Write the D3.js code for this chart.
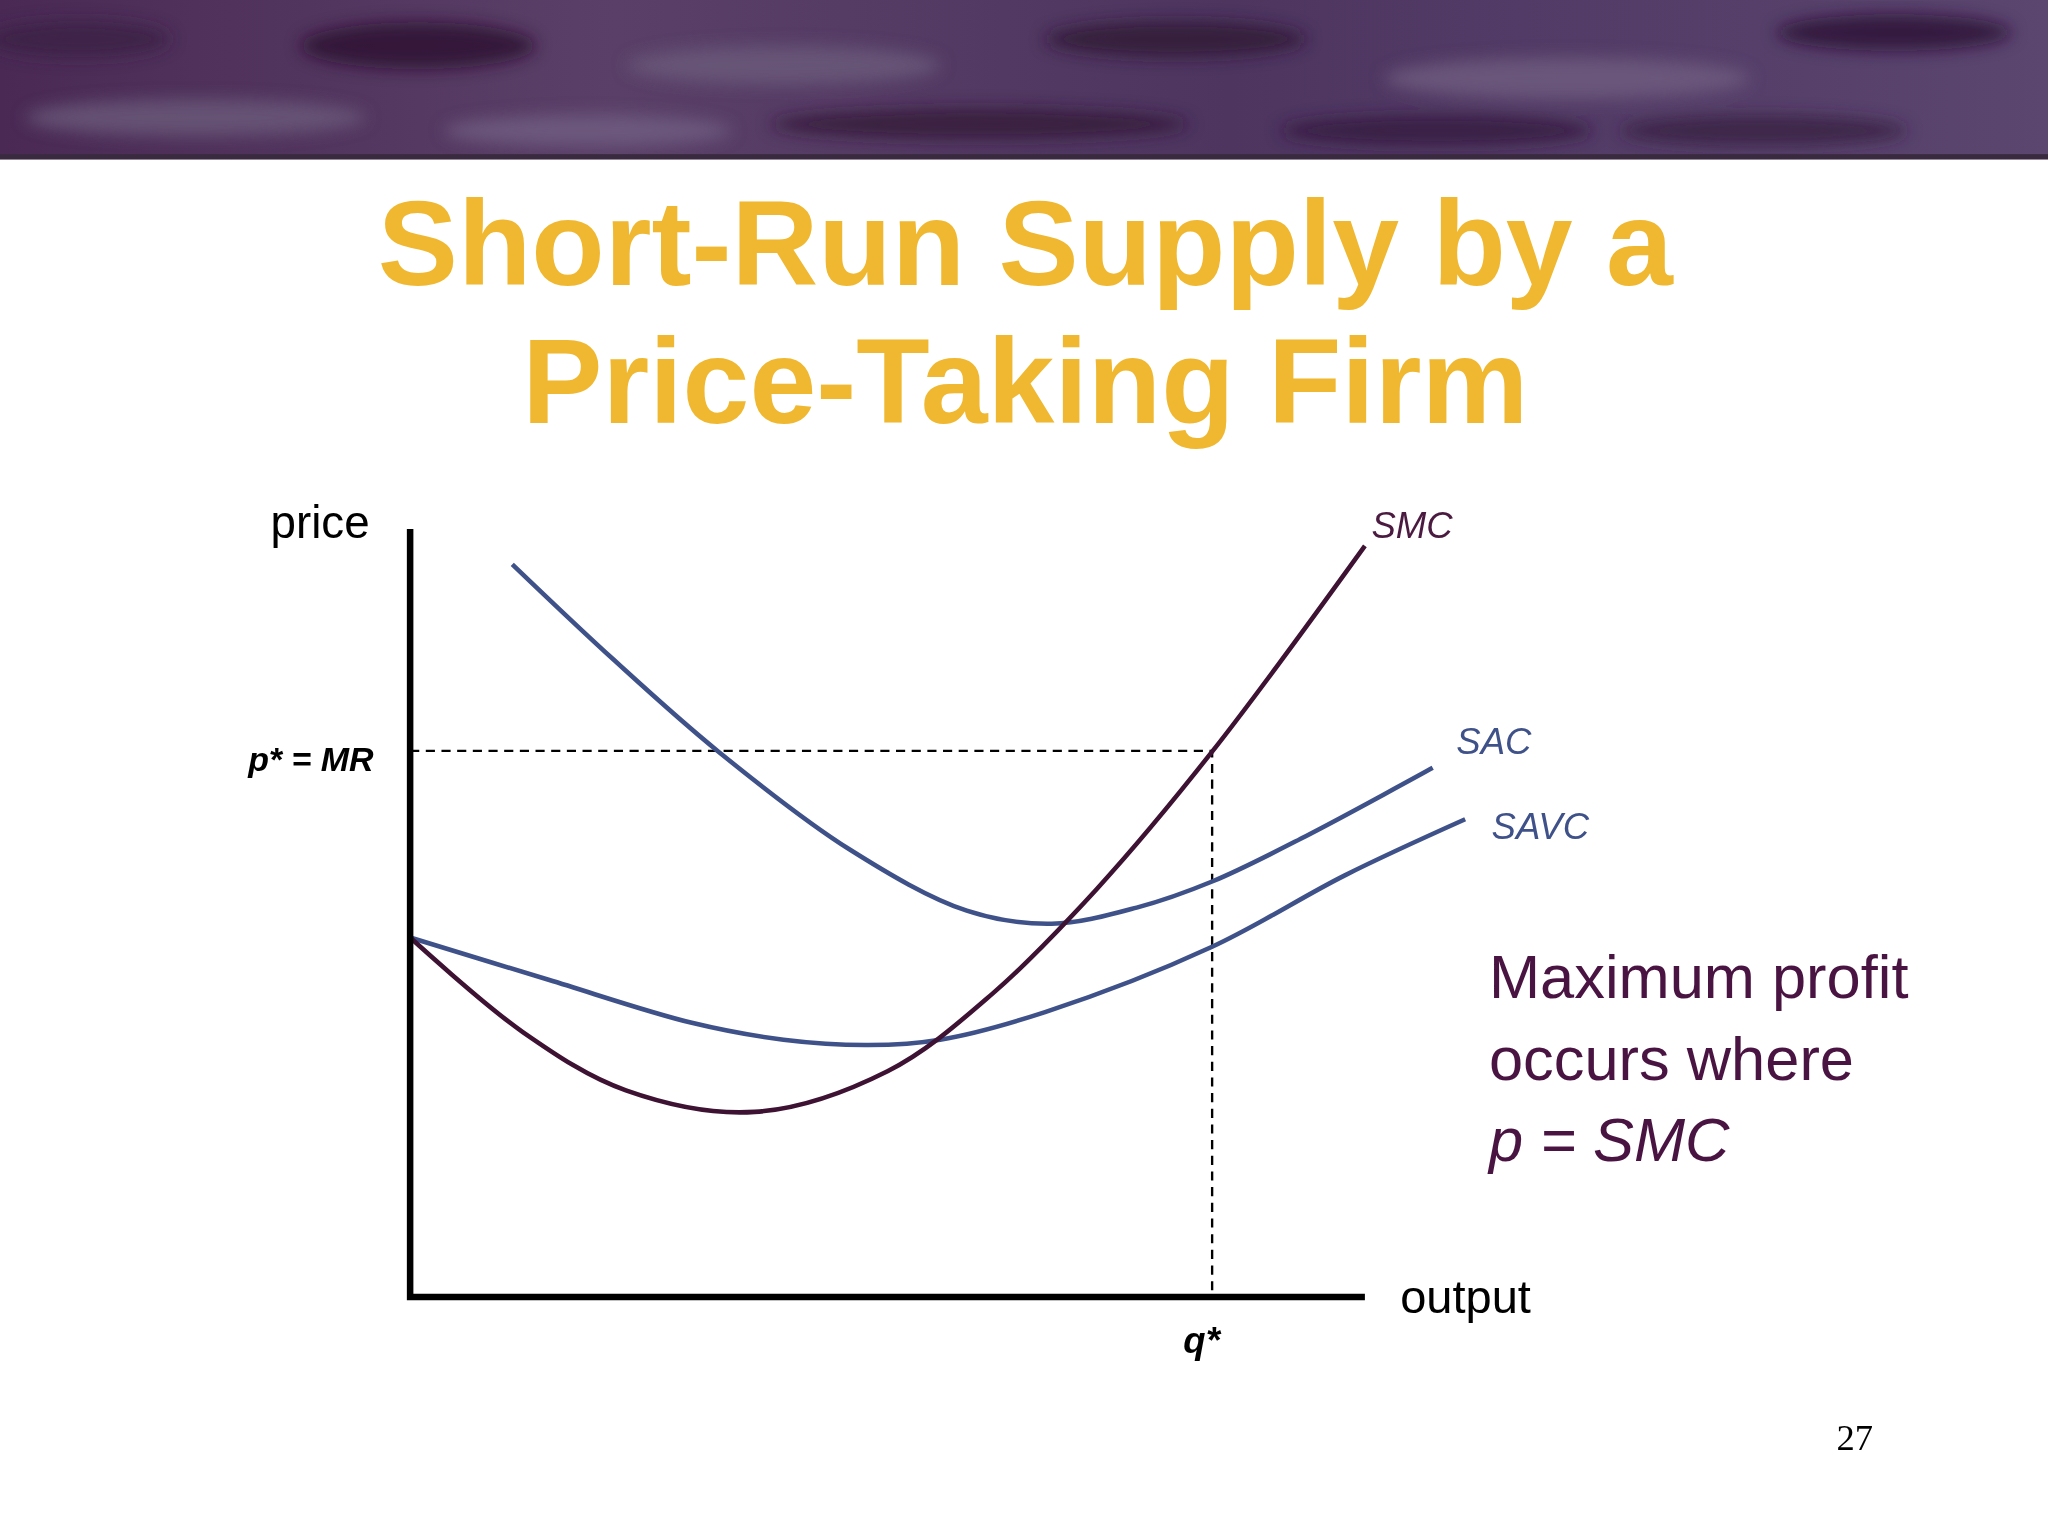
<!DOCTYPE html>
<html><head><meta charset="utf-8">
<script src="https://cdn.jsdelivr.net/npm/d3@7"></script>
<style>html,body{margin:0;padding:0;background:#fff;overflow:hidden}</style>
</head><body>
<script>
const smcData = [[0,46.8],[11.8,34.5],[22.6,26.9],[36.1,24.1],[50.0,29.4],[61.0,39.5],[71.9,53.1],[84.0,71.0],[100,97.8]];
const sacData = [[10.7,95.4],[21.3,83.0],[32.2,71.1],[46.0,58.3],[58.3,50.3],[67.2,48.6],[76.1,50.7],[84.0,54.1],[93.8,60.0],[107.1,68.9]];
const savcData = [[0,46.8],[14.5,41.3],[29.5,35.7],[39.1,33.5],[48.0,32.8],[55.5,33.5],[66.5,37.1],[84.0,45.6],[97.9,54.9],[110.5,62.2]];
const pStar = 71.1, qStar = 84.0;

const W=1568,H=1176;
const svg=d3.select("body").append("svg").attr("width",2048).attr("height",1536).attr("viewBox",`0 0 ${W} ${H}`);
// banner
const defs=svg.append("defs");
const g=defs.append("linearGradient").attr("id","bg").attr("x1",0).attr("x2",1).attr("y1",0).attr("y2",0);
[["0%","#4a2a55"],["30%","#5a4068"],["60%","#4d3560"],["100%","#5b4670"]].forEach(s=>g.append("stop").attr("offset",s[0]).attr("stop-color",s[1]));
defs.append("filter").attr("id","blur").append("feGaussianBlur").attr("stdDeviation",6);
svg.append("rect").attr("width",W).attr("height",122).attr("fill","url(#bg)");
const blobs=[[320,35,90,18,"#2a1030"],[600,50,120,15,"#6a5a7a"],[900,30,100,14,"#2e1535"],[1200,60,140,16,"#705c80"],[1450,25,90,14,"#2c1232"],[150,90,130,14,"#6b5b7a"],[750,95,160,12,"#33183a"],[1100,100,120,12,"#351a3d"],[450,100,110,12,"#725f82"],[1350,100,110,12,"#3a2042"],[60,30,70,14,"#3b2244"]];
const bl=svg.append("g").attr("filter","url(#blur)");
blobs.forEach(b=>bl.append("ellipse").attr("cx",b[0]).attr("cy",b[1]).attr("rx",b[2]).attr("ry",b[3]).attr("fill",b[4]).attr("opacity",0.8));
svg.append("rect").attr("y",118).attr("width",W).attr("height",4).attr("fill","#3a2a40");

const tf="'Liberation Sans', Arial, sans-serif";
svg.append("text").attr("x",785).attr("y",218).attr("text-anchor","middle").attr("font-family",tf).attr("font-weight","bold").attr("font-size",92).attr("fill","#F0B830").text("Short-Run Supply by a");
svg.append("text").attr("x",785).attr("y",324).attr("text-anchor","middle").attr("font-family",tf).attr("font-weight","bold").attr("font-size",92).attr("fill","#F0B830").text("Price-Taking Firm");

const x=d3.scaleLinear().domain([0,100]).range([314,1045]);
const y=d3.scaleLinear().domain([0,100]).range([993,405]);
const line=d3.line().x(d=>x(d[0])).y(d=>y(d[1])).curve(d3.curveCatmullRom.alpha(0.5));

// dashed
svg.append("path").attr("d",`M${x(0)},${y(pStar)}H${x(qStar)}V${y(0)}`).attr("fill","none").attr("stroke","#000").attr("stroke-width",1.8).attr("stroke-dasharray","7,5");

svg.append("path").attr("d",line(sacData)).attr("fill","none").attr("stroke","#3f5189").attr("stroke-width",3.5);
svg.append("path").attr("d",line(savcData)).attr("fill","none").attr("stroke","#3f5189").attr("stroke-width",3.5);
svg.append("path").attr("d",line(smcData)).attr("fill","none").attr("stroke","#3d1232").attr("stroke-width",3.5);

// axes
svg.append("path").attr("d",`M${x(0)},${y(100)}V${y(0)}H${x(100)}`).attr("fill","none").attr("stroke","#000").attr("stroke-width",5);

const T=(tx,ty,s,opt)=>{const t=svg.append("text").attr("x",tx).attr("y",ty).attr("font-family",tf).attr("font-size",opt.size).attr("fill",opt.fill||"#000").text(s);
 if(opt.anchor)t.attr("text-anchor",opt.anchor); if(opt.bold)t.attr("font-weight","bold"); if(opt.italic)t.attr("font-style","italic"); return t;};
T(283,412,"price",{size:35,anchor:"end"});
T(286,590,"p* = MR",{size:26,anchor:"end",bold:1,italic:1});
T(920,1036,"q*",{size:28,anchor:"middle",bold:1,italic:1});
T(1072,1005,"output",{size:36});
T(1050,412,"SMC",{size:28,italic:1,fill:"#4a1a40"});
T(1115,577,"SAC",{size:28,italic:1,fill:"#3f5189"});
T(1142,642,"SAVC",{size:28,italic:1,fill:"#3f5189"});
T(1140,764,"Maximum profit",{size:47,fill:"#4a1442"});
T(1140,827,"occurs where",{size:47,fill:"#4a1442"});
T(1140,889,"p = SMC",{size:47,italic:1,fill:"#4a1442"});
svg.append("text").attr("x",1434).attr("y",1110).attr("text-anchor","end").attr("font-family","'Liberation Serif', serif").attr("font-size",28).text("27");
</script>
</body></html>
